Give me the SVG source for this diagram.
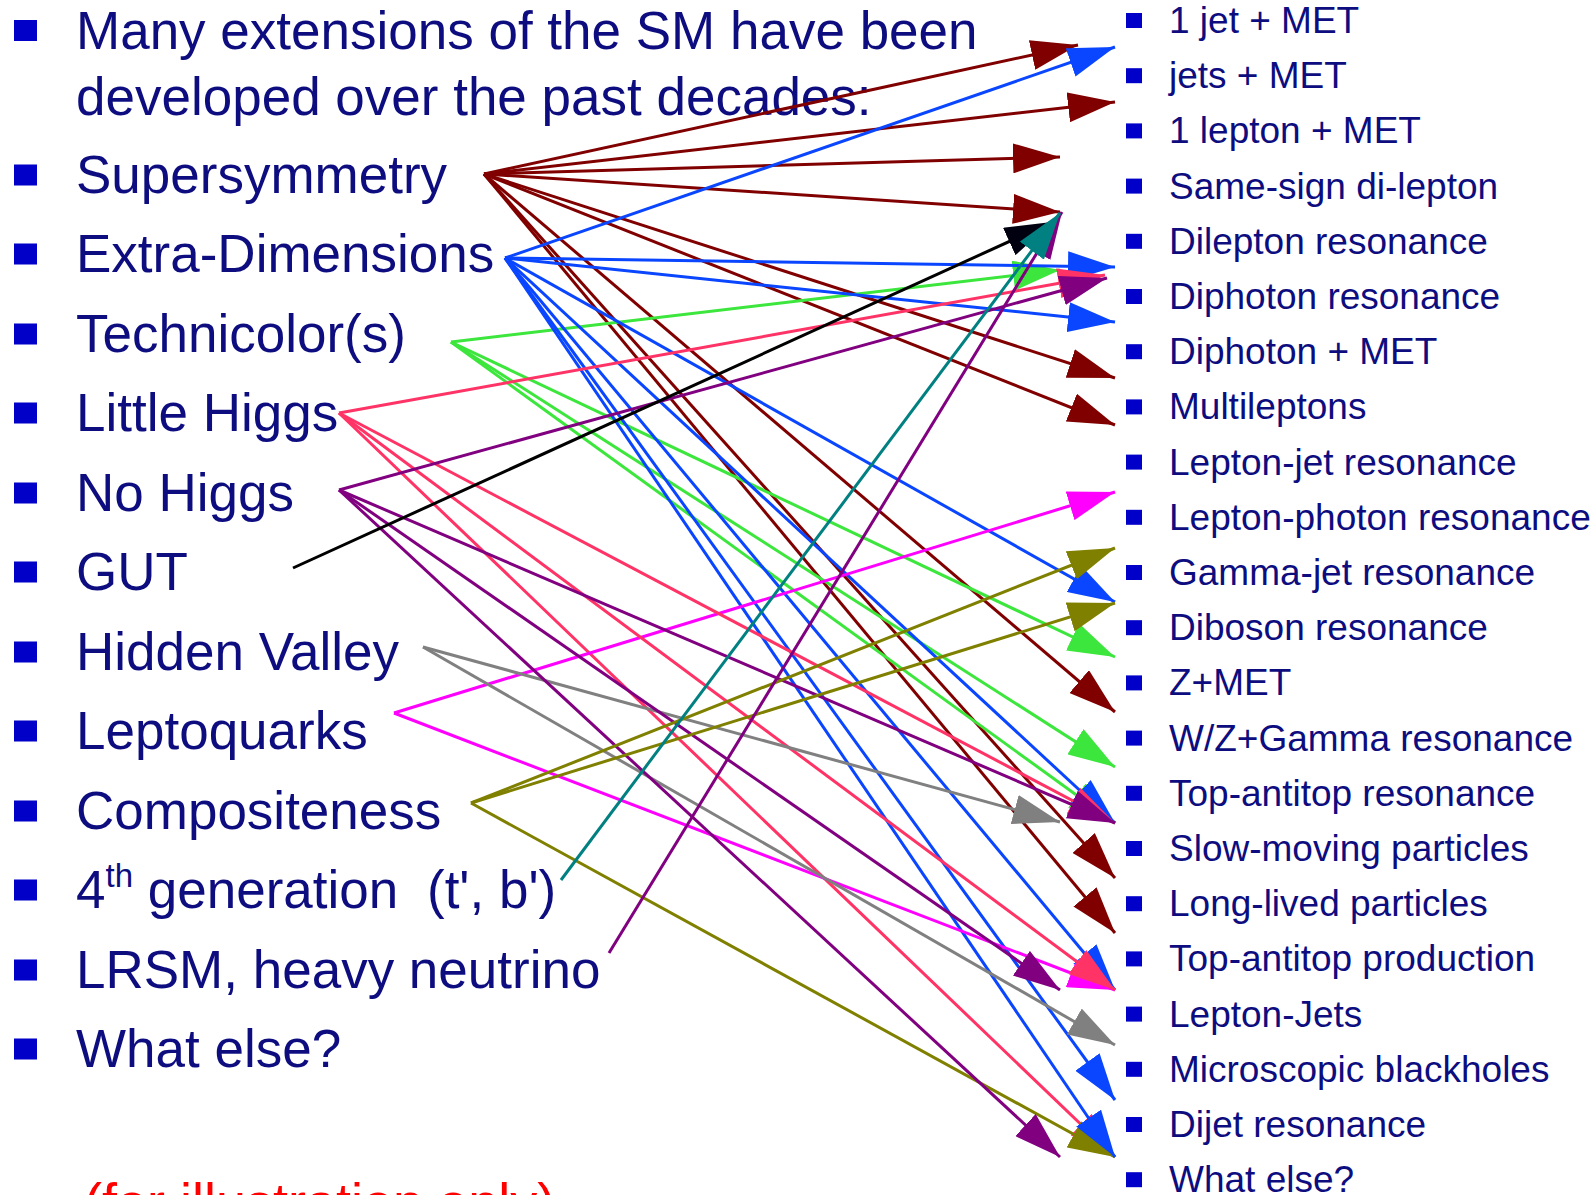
<svg xmlns="http://www.w3.org/2000/svg" width="1595" height="1195" viewBox="0 0 1595 1195">
<style>
.t{font-family:"Liberation Sans",Arial,sans-serif;fill:#0d0d80}
.L{font-size:53px}
.R{font-size:37px}
.b{fill:#0000c8}
#connectors line{stroke-width:3;fill:none}
.mr{stroke:#800000;marker-end:url(#h-mr)}
.bl{stroke:#0a46ff;marker-end:url(#h-bl)}
.gr{stroke:#3ce63c;marker-end:url(#h-gr)}
.pk{stroke:#ff3366;marker-end:url(#h-pk)}
.pu{stroke:#800080;marker-end:url(#h-pu)}
.bk{stroke:#000000;marker-end:url(#h-bk)}
.gy{stroke:#808080;marker-end:url(#h-gy)}
.mg{stroke:#ff00ff;marker-end:url(#h-mg)}
.ol{stroke:#808000;marker-end:url(#h-ol)}
.tl{stroke:#008080;marker-end:url(#h-tl)}
</style>
<defs>
<marker id="h-mr" markerUnits="userSpaceOnUse" viewBox="0 0 47 30" markerWidth="47" markerHeight="30" refX="47" refY="15" orient="auto"><path d="M0,0L47,15L0,30z" fill="#800000"/></marker>
<marker id="h-bl" markerUnits="userSpaceOnUse" viewBox="0 0 47 30" markerWidth="47" markerHeight="30" refX="47" refY="15" orient="auto"><path d="M0,0L47,15L0,30z" fill="#0a46ff"/></marker>
<marker id="h-gr" markerUnits="userSpaceOnUse" viewBox="0 0 47 30" markerWidth="47" markerHeight="30" refX="47" refY="15" orient="auto"><path d="M0,0L47,15L0,30z" fill="#3ce63c"/></marker>
<marker id="h-pk" markerUnits="userSpaceOnUse" viewBox="0 0 47 30" markerWidth="47" markerHeight="30" refX="47" refY="15" orient="auto"><path d="M0,0L47,15L0,30z" fill="#ff3366"/></marker>
<marker id="h-pu" markerUnits="userSpaceOnUse" viewBox="0 0 47 30" markerWidth="47" markerHeight="30" refX="47" refY="15" orient="auto"><path d="M0,0L47,15L0,30z" fill="#800080"/></marker>
<marker id="h-bk" markerUnits="userSpaceOnUse" viewBox="0 0 47 30" markerWidth="47" markerHeight="30" refX="47" refY="15" orient="auto"><path d="M0,0L47,15L0,30z" fill="#000010"/></marker>
<marker id="h-gy" markerUnits="userSpaceOnUse" viewBox="0 0 47 30" markerWidth="47" markerHeight="30" refX="47" refY="15" orient="auto"><path d="M0,0L47,15L0,30z" fill="#808080"/></marker>
<marker id="h-mg" markerUnits="userSpaceOnUse" viewBox="0 0 47 30" markerWidth="47" markerHeight="30" refX="47" refY="15" orient="auto"><path d="M0,0L47,15L0,30z" fill="#ff00ff"/></marker>
<marker id="h-ol" markerUnits="userSpaceOnUse" viewBox="0 0 47 30" markerWidth="47" markerHeight="30" refX="47" refY="15" orient="auto"><path d="M0,0L47,15L0,30z" fill="#808000"/></marker>
<marker id="h-tl" markerUnits="userSpaceOnUse" viewBox="0 0 47 30" markerWidth="47" markerHeight="30" refX="47" refY="15" orient="auto"><path d="M0,0L47,15L0,30z" fill="#008080"/></marker>
</defs>
<rect width="1595" height="1195" fill="#ffffff"/>

<g id="header">
<rect class="b" x="14" y="20" width="23" height="21"/>
<text class="t L" x="76" y="49">Many extensions of the SM have been</text>
<text class="t L" x="76" y="115">developed over the past decades:</text>
</g>

<g id="models">
<g id="n-susy"><rect class="b" x="14" y="164.5" width="23" height="21"/><text class="t L" x="76" y="193">Supersymmetry</text></g>
<g id="n-xdim"><rect class="b" x="14" y="243.5" width="23" height="21"/><text class="t L" x="76" y="272">Extra-Dimensions</text></g>
<g id="n-tc"><rect class="b" x="14" y="323.5" width="23" height="21"/><text class="t L" x="76" y="352">Technicolor(s)</text></g>
<g id="n-lh"><rect class="b" x="14" y="402.5" width="23" height="21"/><text class="t L" x="76" y="431">Little Higgs</text></g>
<g id="n-nh"><rect class="b" x="14" y="482.5" width="23" height="21"/><text class="t L" x="76" y="511">No Higgs</text></g>
<g id="n-gut"><rect class="b" x="14" y="561.5" width="23" height="21"/><text class="t L" x="76" y="590">GUT</text></g>
<g id="n-hv"><rect class="b" x="14" y="641.5" width="23" height="21"/><text class="t L" x="76" y="670">Hidden Valley</text></g>
<g id="n-lq"><rect class="b" x="14" y="720.5" width="23" height="21"/><text class="t L" x="76" y="749">Leptoquarks</text></g>
<g id="n-comp"><rect class="b" x="14" y="800.5" width="23" height="21"/><text class="t L" x="76" y="829">Compositeness</text></g>
<g id="n-4gen"><rect class="b" x="14" y="879.5" width="23" height="21"/><text class="t L" x="76" y="908">4<tspan font-size="33" dy="-21">th</tspan><tspan dy="21"> generation</tspan><tspan x="427">(t', b')</tspan></text></g>
<g id="n-lrsm"><rect class="b" x="14" y="959.5" width="23" height="21"/><text class="t L" x="76" y="988">LRSM, heavy neutrino</text></g>
<g id="n-else"><rect class="b" x="14" y="1038.5" width="23" height="21"/><text class="t L" x="76" y="1067">What else?</text></g>
</g>

<g id="signatures">
<g id="s0"><rect class="b" x="1126" y="13" width="16" height="15"/><text class="t R" x="1169" y="33">1 jet + MET</text></g>
<g id="s1"><rect class="b" x="1126" y="68.2" width="16" height="15"/><text class="t R" x="1169" y="88.2">jets + MET</text></g>
<g id="s2"><rect class="b" x="1126" y="123.4" width="16" height="15"/><text class="t R" x="1169" y="143.4">1 lepton + MET</text></g>
<g id="s3"><rect class="b" x="1126" y="178.6" width="16" height="15"/><text class="t R" x="1169" y="198.6">Same-sign di-lepton</text></g>
<g id="s4"><rect class="b" x="1126" y="233.8" width="16" height="15"/><text class="t R" x="1169" y="253.8">Dilepton resonance</text></g>
<g id="s5"><rect class="b" x="1126" y="289" width="16" height="15"/><text class="t R" x="1169" y="309">Diphoton resonance</text></g>
<g id="s6"><rect class="b" x="1126" y="344.2" width="16" height="15"/><text class="t R" x="1169" y="364.2">Diphoton + MET</text></g>
<g id="s7"><rect class="b" x="1126" y="399.4" width="16" height="15"/><text class="t R" x="1169" y="419.4">Multileptons</text></g>
<g id="s8"><rect class="b" x="1126" y="454.6" width="16" height="15"/><text class="t R" x="1169" y="474.6">Lepton-jet resonance</text></g>
<g id="s9"><rect class="b" x="1126" y="509.8" width="16" height="15"/><text class="t R" x="1169" y="529.8">Lepton-photon resonance</text></g>
<g id="s10"><rect class="b" x="1126" y="565" width="16" height="15"/><text class="t R" x="1169" y="585">Gamma-jet resonance</text></g>
<g id="s11"><rect class="b" x="1126" y="620.2" width="16" height="15"/><text class="t R" x="1169" y="640.2">Diboson resonance</text></g>
<g id="s12"><rect class="b" x="1126" y="675.4" width="16" height="15"/><text class="t R" x="1169" y="695.4">Z+MET</text></g>
<g id="s13"><rect class="b" x="1126" y="730.6" width="16" height="15"/><text class="t R" x="1169" y="750.6">W/Z+Gamma resonance</text></g>
<g id="s14"><rect class="b" x="1126" y="785.8" width="16" height="15"/><text class="t R" x="1169" y="805.8">Top-antitop resonance</text></g>
<g id="s15"><rect class="b" x="1126" y="841" width="16" height="15"/><text class="t R" x="1169" y="861">Slow-moving particles</text></g>
<g id="s16"><rect class="b" x="1126" y="896.2" width="16" height="15"/><text class="t R" x="1169" y="916.2">Long-lived particles</text></g>
<g id="s17"><rect class="b" x="1126" y="951.4" width="16" height="15"/><text class="t R" x="1169" y="971.4">Top-antitop production</text></g>
<g id="s18"><rect class="b" x="1126" y="1006.6" width="16" height="15"/><text class="t R" x="1169" y="1026.6">Lepton-Jets</text></g>
<g id="s19"><rect class="b" x="1126" y="1061.8" width="16" height="15"/><text class="t R" x="1169" y="1081.8">Microscopic blackholes</text></g>
<g id="s20"><rect class="b" x="1126" y="1117" width="16" height="15"/><text class="t R" x="1169" y="1137">Dijet resonance</text></g>
<g id="s21"><rect class="b" x="1126" y="1172.2" width="16" height="15"/><text class="t R" x="1169" y="1192.2">What else?</text></g>
</g>

<g id="connectors">
<line class="mr" x1="484" y1="174" x2="1078" y2="45"/>
<line class="mr" x1="484" y1="174" x2="1115" y2="102"/>
<line class="mr" x1="484" y1="174" x2="1060" y2="157"/>
<line class="mr" x1="484" y1="174" x2="1060" y2="212"/>
<line class="mr" x1="484" y1="174" x2="1115" y2="378"/>
<line class="mr" x1="484" y1="174" x2="1115" y2="425"/>
<line class="mr" x1="484" y1="174" x2="1115" y2="712"/>
<line class="mr" x1="484" y1="174" x2="1115" y2="878"/>
<line class="mr" x1="484" y1="174" x2="1115" y2="933"/>
<line class="gr" x1="451" y1="342" x2="1060" y2="270"/>
<line class="gr" x1="451" y1="342" x2="1115" y2="657"/>
<line class="gr" x1="451" y1="342" x2="1115" y2="767"/>
<line class="gr" x1="451" y1="342" x2="1115" y2="823"/>
<line class="pk" x1="339" y1="413" x2="1115" y2="1157"/>
<line class="ol" x1="471" y1="803" x2="1115" y2="1157"/>
<line class="bl" x1="505" y1="258" x2="1115" y2="47"/>
<line class="bl" x1="505" y1="258" x2="1115" y2="267"/>
<line class="bl" x1="505" y1="258" x2="1115" y2="322"/>
<line class="bl" x1="505" y1="258" x2="1115" y2="602"/>
<line class="bl" x1="505" y1="258" x2="1115" y2="823"/>
<line class="bl" x1="505" y1="258" x2="1115" y2="990"/>
<line class="bl" x1="505" y1="258" x2="1115" y2="1100"/>
<line class="bl" x1="505" y1="258" x2="1115" y2="1157"/>
<line class="mg" x1="394" y1="713" x2="1115" y2="492"/>
<line class="mg" x1="394" y1="713" x2="1115" y2="990"/>
<line class="pk" x1="339" y1="413" x2="1105" y2="275"/>
<line class="pk" x1="339" y1="413" x2="1115" y2="823"/>
<line class="pk" x1="339" y1="413" x2="1115" y2="990"/>
<line class="gy" x1="423" y1="647" x2="1060" y2="822"/>
<line class="gy" x1="423" y1="647" x2="1115" y2="1045"/>
<line class="pu" x1="339" y1="490" x2="1107" y2="278"/>
<line class="pu" x1="339" y1="490" x2="1115" y2="823"/>
<line class="pu" x1="339" y1="490" x2="1060" y2="990"/>
<line class="pu" x1="339" y1="490" x2="1060" y2="1157"/>
<line class="ol" x1="471" y1="803" x2="1115" y2="548"/>
<line class="ol" x1="471" y1="803" x2="1115" y2="603"/>
<line class="bk" x1="293" y1="568" x2="1052" y2="222"/>
<line class="pu" x1="609" y1="953" x2="1062" y2="212"/>
<line class="tl" x1="561" y1="880" x2="1060" y2="213"/>
</g>

<text id="note" x="84" y="1221" font-family="Liberation Sans, Arial, sans-serif" font-size="54" fill="#ff0000">(for illustration only)</text>
</svg>
